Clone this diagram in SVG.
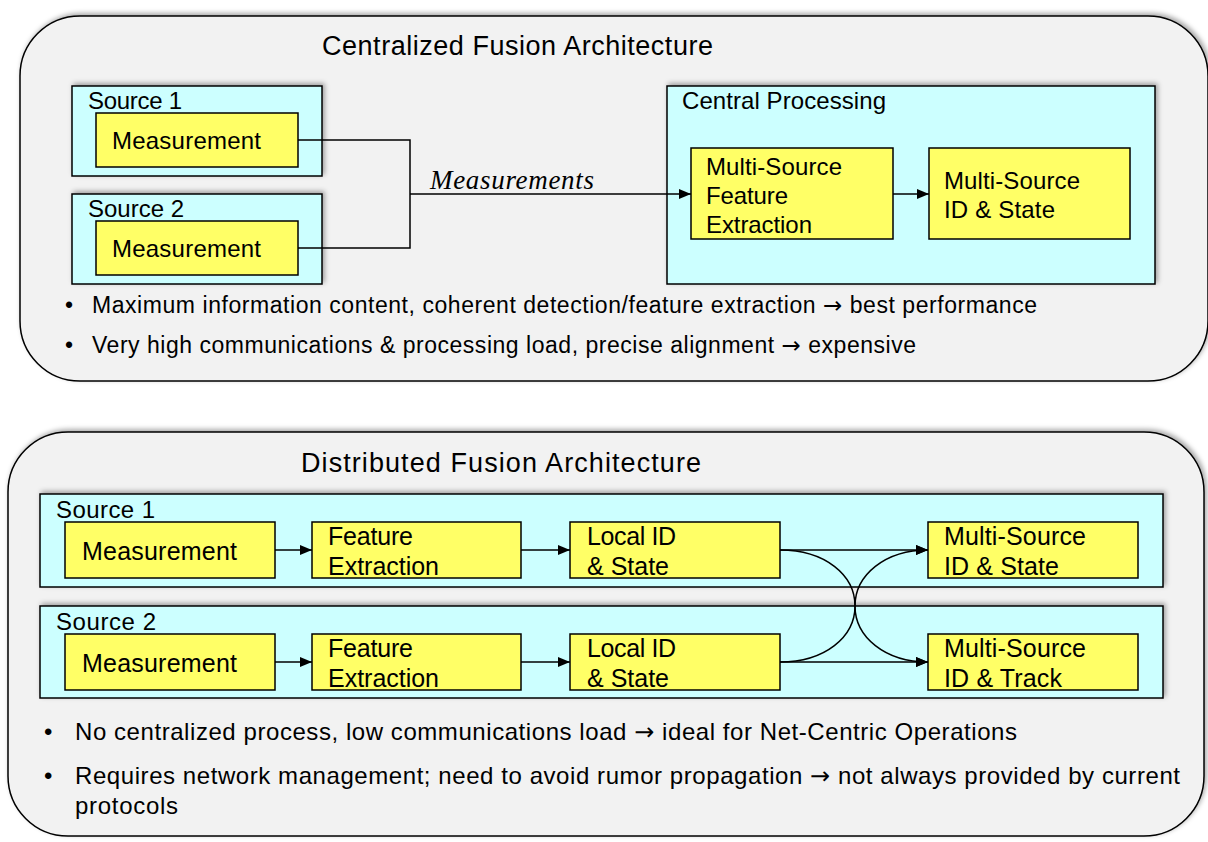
<svg xmlns="http://www.w3.org/2000/svg" width="1208" height="842" viewBox="0 0 1208 842">
<defs>
  <filter id="sh" x="-10%" y="-20%" width="120%" height="140%">
    <feDropShadow dx="2" dy="-2" stdDeviation="2.5" flood-color="#000" flood-opacity="0.35"/>
  </filter>
  <marker id="ah" viewBox="0 0 12 10" refX="12" refY="5" markerWidth="12" markerHeight="10" markerUnits="userSpaceOnUse" orient="auto">
    <path d="M0,0 L12,5 L0,10 Z" fill="#000"/>
  </marker>
  <style>
    .panel{fill:#F2F2F2;stroke:#000;stroke-width:1.5}
    .src{fill:#CCFFFF;stroke:#000;stroke-width:1.5}
    .blk{fill:#FFFF66;stroke:#000;stroke-width:1.5}
    .t{font-family:"Liberation Sans",Arial,sans-serif;fill:#000}
    .title{font-size:27px}
    .lbl{font-size:24px}
    .lbl2{font-size:25px}
    .bl{font-size:23px}
    .bl2{font-size:24px}
    .ar{font-family:"DejaVu Sans",sans-serif}
    .c{fill:none;stroke:#000;stroke-width:1.5}
    .it{font-family:"Liberation Serif","Times New Roman",serif;font-style:italic;font-size:27px}
  </style>
</defs>
<rect width="1208" height="842" fill="#fff"/>

<g id="panel-centralized">
  <rect class="panel" x="20" y="16" width="1188" height="365" rx="60" ry="60" filter="url(#sh)"/>
  <text class="t title" x="322" y="55" textLength="391">Centralized Fusion Architecture</text>
</g>
<g id="c-source1">
  <rect class="src" x="72" y="86" width="250" height="90" filter="url(#sh)"/>
  <text class="t lbl" x="88" y="109" textLength="94">Source 1</text>
</g>
<g id="c-meas1">
  <rect class="blk" x="96" y="113" width="202" height="54"/>
  <text class="t lbl" x="112" y="149" textLength="149">Measurement</text>
</g>
<g id="c-source2">
  <rect class="src" x="72" y="194" width="250" height="90" filter="url(#sh)"/>
  <text class="t lbl" x="88" y="217" textLength="96">Source 2</text>
</g>
<g id="c-meas2">
  <rect class="blk" x="96" y="221" width="202" height="54"/>
  <text class="t lbl" x="112" y="257" textLength="149">Measurement</text>
</g>
<g id="c-central">
  <rect class="src" x="667" y="86" width="488" height="198" filter="url(#sh)"/>
  <text class="t lbl" x="682" y="109" textLength="204">Central Processing</text>
</g>
<g id="c-msfe">
  <rect class="blk" x="691" y="148" width="202" height="91"/>
  <text class="t lbl" x="706" y="175" textLength="136">Multi-Source</text>
  <text class="t lbl" x="706" y="204" textLength="82">Feature</text>
  <text class="t lbl" x="706" y="233" textLength="106">Extraction</text>
</g>
<g id="c-msid">
  <rect class="blk" x="929" y="148" width="201" height="91"/>
  <text class="t lbl" x="944" y="189" textLength="136">Multi-Source</text>
  <text class="t lbl" x="944" y="218" textLength="111">ID &amp; State</text>
</g>
<g id="c-bullets">
  <text class="t bl" x="65" y="313">•</text>
  <text class="t bl" x="92" y="313" textLength="945">Maximum information content, coherent detection/feature extraction <tspan class="ar">→</tspan> best performance</text>
  <text class="t bl" x="65" y="353">•</text>
  <text class="t bl" x="92" y="353" textLength="824">Very high communications &amp; processing load, precise alignment <tspan class="ar">→</tspan> expensive</text>
</g>

<g id="panel-distributed">
  <rect class="panel" x="8" y="432" width="1196" height="404" rx="60" ry="60" filter="url(#sh)"/>
  <text class="t title" x="301" y="472" textLength="400">Distributed Fusion Architecture</text>
</g>
<g id="d-source1">
  <rect class="src" x="40" y="494" width="1123" height="93" filter="url(#sh)"/>
  <text class="t lbl" x="56" y="518" textLength="99">Source 1</text>
</g>
<g id="d-source2">
  <rect class="src" x="40" y="606" width="1123" height="92" filter="url(#sh)"/>
  <text class="t lbl" x="56" y="630" textLength="100">Source 2</text>
</g>
<g id="d-meas1">
  <rect class="blk" x="65" y="522" width="210" height="56"/>
  <text class="t lbl2" x="82" y="560" textLength="155">Measurement</text>
</g>
<g id="d-fe1">
  <rect class="blk" x="312" y="522" width="209" height="56"/>
  <text class="t lbl2" x="328" y="545" textLength="85">Feature</text>
  <text class="t lbl2" x="328" y="575" textLength="111">Extraction</text>
</g>
<g id="d-lid1">
  <rect class="blk" x="570" y="522" width="210" height="56"/>
  <text class="t lbl2" x="587" y="545" textLength="89">Local ID</text>
  <text class="t lbl2" x="587" y="575" textLength="82">&amp; State</text>
</g>
<g id="d-ms1">
  <rect class="blk" x="928" y="522" width="210" height="56"/>
  <text class="t lbl2" x="944" y="545" textLength="142">Multi-Source</text>
  <text class="t lbl2" x="944" y="575" textLength="115">ID &amp; State</text>
</g>
<g id="d-meas2">
  <rect class="blk" x="65" y="634" width="210" height="56"/>
  <text class="t lbl2" x="82" y="672" textLength="155">Measurement</text>
</g>
<g id="d-fe2">
  <rect class="blk" x="312" y="634" width="209" height="56"/>
  <text class="t lbl2" x="328" y="657" textLength="85">Feature</text>
  <text class="t lbl2" x="328" y="687" textLength="111">Extraction</text>
</g>
<g id="d-lid2">
  <rect class="blk" x="570" y="634" width="210" height="56"/>
  <text class="t lbl2" x="587" y="657" textLength="89">Local ID</text>
  <text class="t lbl2" x="587" y="687" textLength="82">&amp; State</text>
</g>
<g id="d-ms2">
  <rect class="blk" x="928" y="634" width="210" height="56"/>
  <text class="t lbl2" x="944" y="657" textLength="142">Multi-Source</text>
  <text class="t lbl2" x="944" y="687" textLength="118">ID &amp; Track</text>
</g>
<g id="d-bullets">
  <text class="t bl2" x="44" y="740">•</text>
  <text class="t bl2" x="75" y="740" textLength="942">No centralized process, low communications load <tspan class="ar">→</tspan> ideal for Net-Centric Operations</text>
  <text class="t bl2" x="44" y="784">•</text>
  <text class="t bl2" x="75" y="784" textLength="1105">Requires network management; need to avoid rumor propagation <tspan class="ar">→</tspan> not always provided by current</text>
  <text class="t bl2" x="75" y="814" textLength="103">protocols</text>
</g>

<g id="connectors">
  <polyline class="c" points="298,140 410,140 410,248 298,248"/>
  <line class="c" x1="410" y1="194" x2="691" y2="194" marker-end="url(#ah)"/>
  <text class="it" x="430" y="189" textLength="164">Measurements</text>
  <line class="c" x1="893" y1="194" x2="929" y2="194" marker-end="url(#ah)"/>
  <line class="c" x1="275" y1="550" x2="312" y2="550" marker-end="url(#ah)"/>
  <line class="c" x1="521" y1="550" x2="570" y2="550" marker-end="url(#ah)"/>
  <line class="c" x1="780" y1="550" x2="928" y2="550" marker-end="url(#ah)"/>
  <line class="c" x1="275" y1="662" x2="312" y2="662" marker-end="url(#ah)"/>
  <line class="c" x1="521" y1="662" x2="570" y2="662" marker-end="url(#ah)"/>
  <line class="c" x1="780" y1="662" x2="928" y2="662" marker-end="url(#ah)"/>
  <path class="c" d="M780,550 C825,550 855,575 855,606 C855,637 885,662 928,662" marker-end="url(#ah)"/>
  <path class="c" d="M780,662 C825,662 855,637 855,606 C855,575 885,550 928,550" marker-end="url(#ah)"/>
</g>
</svg>
